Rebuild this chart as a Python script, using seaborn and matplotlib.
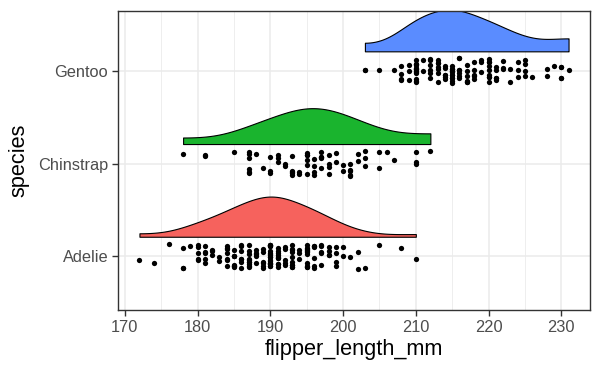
import numpy as np
import pandas as pd
import seaborn as sns
import matplotlib
matplotlib.use("Agg")
import matplotlib.pyplot as plt
from matplotlib.ticker import MultipleLocator

# flipper lengths (one value per point)
adelie = [181, 186, 195, 193, 190, 181, 195, 193, 190, 186,
          180, 182, 191, 198, 185, 195, 197, 184, 194, 174,
          180, 189, 185, 180, 187, 183, 187, 172, 180, 178,
          178, 188, 184, 195, 196, 190, 180, 181, 184, 182,
          195, 186, 196, 185, 190, 182, 179, 190, 191, 186,
          188, 190, 200, 187, 191, 186, 193, 181, 194, 185,
          195, 185, 192, 184, 192, 195, 188, 190, 198, 190,
          190, 196, 197, 190, 195, 191, 184, 187, 195, 189,
          196, 187, 193, 191, 194, 190, 189, 189, 190, 202,
          205, 185, 186, 187, 208, 190, 196, 178, 192, 192,
          203, 183, 190, 193, 184, 199, 190, 181, 197, 198,
          191, 193, 197, 191, 196, 188, 199, 189, 189, 187,
          198, 176, 202, 186, 199, 191, 195, 191, 210, 190,
          197, 193, 199, 187, 190, 191, 200, 185, 193, 193,
          187, 188, 190, 192, 185, 190, 184, 195, 193, 187, 201]
chinstrap = [192, 196, 193, 188, 197, 198, 178, 197, 195, 198,
             193, 194, 185, 201, 190, 201, 197, 181, 190, 195,
             181, 191, 187, 193, 195, 197, 200, 200, 191, 205,
             187, 201, 187, 203, 195, 199, 195, 210, 192, 205,
             210, 187, 196, 196, 196, 201, 190, 212, 187, 198,
             199, 201, 193, 203, 187, 197, 191, 203, 202, 194,
             206, 189, 195, 207, 202, 193, 210, 198]
gentoo = [211, 230, 210, 218, 215, 210, 211, 219, 209, 215,
          214, 216, 214, 213, 210, 217, 210, 205, 210, 220,
          213, 217, 210, 215, 210, 220, 209, 220, 215, 207,
          213, 215, 210, 218, 213, 210, 215, 215, 216, 217,
          212, 221, 214, 222, 203, 216, 215, 215, 213, 220,
          213, 215, 208, 225, 210, 216, 222, 217, 210, 225,
          213, 215, 210, 220, 210, 225, 217, 220, 208, 220,
          208, 224, 208, 221, 214, 231, 219, 230, 214, 229,
          220, 223, 216, 221, 221, 217, 216, 230, 209, 220,
          215, 223, 212, 221, 212, 224, 212, 228, 218, 218,
          212, 230, 218, 228, 212, 224, 214, 226, 216, 222,
          203, 225, 219]

species = ["Gentoo", "Chinstrap", "Adelie"]   # top to bottom
values = {"Adelie": adelie, "Chinstrap": chinstrap, "Gentoo": gentoo}
colors = {"Adelie": "#F6625D", "Chinstrap": "#1AB42E", "Gentoo": "#5A8CFF"}

df = pd.DataFrame({
    "species": [s for s in species for _ in values[s]],
    "flipper_length_mm": [v for s in species for v in values[s]],
})


def bounded_kde(data, grid):
    # gaussian kde reflected at the data range
    data = np.asarray(data, float)
    n = len(data)
    q75, q25 = np.percentile(data, [75, 25])
    bw = 1.35 * 0.9 * min(data.std(ddof=1), (q75 - q25) / 1.34) * n ** -0.2
    lo, hi = data.min(), data.max()
    pts = np.concatenate([data, 2 * lo - data, 2 * hi - data])
    z = (grid[:, None] - pts[None, :]) / bw
    return np.exp(-0.5 * z ** 2).sum(axis=1) / (n * bw * np.sqrt(2 * np.pi))


plt.rcParams["font.family"] = ["Liberation Sans", "DejaVu Sans"]
fig = plt.figure(figsize=(6.01, 3.72), dpi=100)
ax = fig.add_axes([118 / 601, 1 - 310 / 372, 472 / 601, 299 / 372])

# densities (common scale, so heights keep their ratios)
dens = {}
for s in species:
    g = np.linspace(min(values[s]), max(values[s]), 300)
    dens[s] = (g, bounded_kde(values[s], g))
top = max(d.max() for _, d in dens.values())
for i, s in enumerate(species):
    g, d = dens[s]
    base = i - 0.21
    ax.fill_between(g, base, base - d / top * 0.45, facecolor=colors[s],
                    edgecolor="black", linewidth=0.8, zorder=2)

np.random.seed(7)
sns.stripplot(data=df, x="flipper_length_mm", y="species", order=species,
              orient="h", jitter=0.135, color="black", size=3.8, linewidth=0,
              ax=ax, zorder=3)

ax.set_xlim(169.05, 233.95)
ax.set_ylim(2.58, -0.645)
ax.xaxis.set_major_locator(MultipleLocator(10))
ax.xaxis.set_minor_locator(MultipleLocator(5))
ax.grid(which="major", color="#EBEBEB", linewidth=1.1, zorder=0)
ax.grid(which="minor", axis="x", color="#EBEBEB", linewidth=0.6, zorder=0)
ax.set_axisbelow(True)
for sp in ax.spines.values():
    sp.set_color("#333333")
    sp.set_linewidth(1.0)
ax.tick_params(which="major", length=4, width=1.0, color="#333333",
               labelcolor="#4D4D4D", labelsize=11.8, pad=3)
ax.tick_params(which="minor", length=0)
ax.set_xlabel("flipper_length_mm", fontsize=15.7, labelpad=3)
ax.set_ylabel("species", fontsize=15.7, labelpad=6)

fig.savefig("out.png", dpi=100)
